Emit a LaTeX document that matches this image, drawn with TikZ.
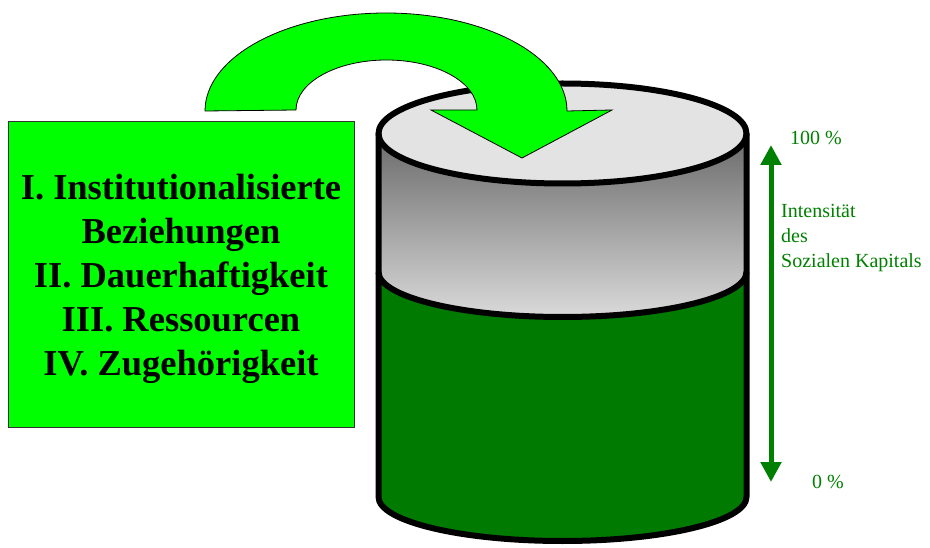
\documentclass[tikz,border=0pt]{standalone}
\usepackage{fontspec}
\setmainfont{Liberation Serif}
\usepackage{xcolor}
\usepackage{tikz}
\usetikzlibrary{arrows.meta,positioning,calc}
\definecolor{litegreen}{RGB}{0,255,0}
\definecolor{cyldark}{RGB}{0,122,0}
\definecolor{scalegreen}{RGB}{0,128,0}
\definecolor{bandtop}{RGB}{105,105,105}
\definecolor{bandbot}{RGB}{218,218,218}
\definecolor{topgray}{RGB}{227,227,227}
\tikzset{
  factorbox/.style={draw=black!80, fill=litegreen, minimum width=346pt, minimum height=306pt, inner sep=0pt},
  factortext/.style={font=\bfseries\fontsize{36.5}{44}\selectfont, align=center, inner sep=0pt},
  cylline/.style={line width=6pt, line join=round},
  bendarrow/.style={fill=litegreen, draw=black, line width=0.8pt, line join=miter},
  scalearrow/.style={{Triangle[length=20pt,width=20pt]}-{Triangle[length=20pt,width=20pt]}, line width=5pt, draw=scalegreen},
  scalelabel/.style={text=scalegreen, font=\fontsize{20}{25}\selectfont, inner sep=0pt},
}
\begin{document}
\begin{tikzpicture}[x=1pt,y=1pt]
  \useasboundingbox (0,0) rectangle (930,547);

  % cylinder: green lower part, shaded band, top face
  \fill[cyldark] (378.5,275) -- (378.5,50) arc[start angle=180,end angle=360,x radius=184,y radius=44]
    -- (746.5,275) arc[start angle=0,end angle=-180,x radius=184,y radius=45] -- cycle;
  \shade[top color=bandtop, bottom color=bandbot] (378.5,413.5) -- (378.5,275) arc[start angle=180,end angle=360,x radius=184,y radius=45]
    -- (746.5,413.5) arc[start angle=0,end angle=-180,x radius=184,y radius=50] -- cycle;
  \filldraw[cylline, fill=topgray] (562.5,413.5) ellipse[x radius=184,y radius=50];
  \draw[cylline] (378.5,413.5) -- (378.5,50) arc[start angle=180,end angle=360,x radius=184,y radius=44] -- (746.5,413.5);
  \draw[cylline] (378.5,275) arc[start angle=180,end angle=360,x radius=184,y radius=45];

  % bent arrow into the cylinder
  \filldraw[bendarrow] (205,436) arc[start angle=180,end angle=0,x radius=181,y radius=98]
    -- (612,437) -- (522,389) -- (431,437) -- (477,437)
    arc[start angle=0,end angle=180,x radius=90.5,y radius=50] -- cycle;

  \node[factorbox] (factors) at (181,273) {};
  \node[factortext] (factorlist) at ([yshift=-5pt]factors.center)
    {I. Institutionalisierte\\Beziehungen\\II. Dauerhaftigkeit\\III. Ressourcen\\IV. Zugehörigkeit};

  % intensity scale
  \coordinate (full) at (771,402);
  \coordinate (empty) at (771,65);
  \draw[scalearrow] (empty) -- (full);
  \node[scalelabel, anchor=base west] (pct100) at (790,402) {100 \%};
  \node[scalelabel, anchor=base west] (pct0) at (812,59) {0 \%};
  \node[scalelabel, anchor=north west, align=left] (intensity) at (781,343) {Intensität\\des\\Sozialen Kapitals};
\end{tikzpicture}
\end{document}
